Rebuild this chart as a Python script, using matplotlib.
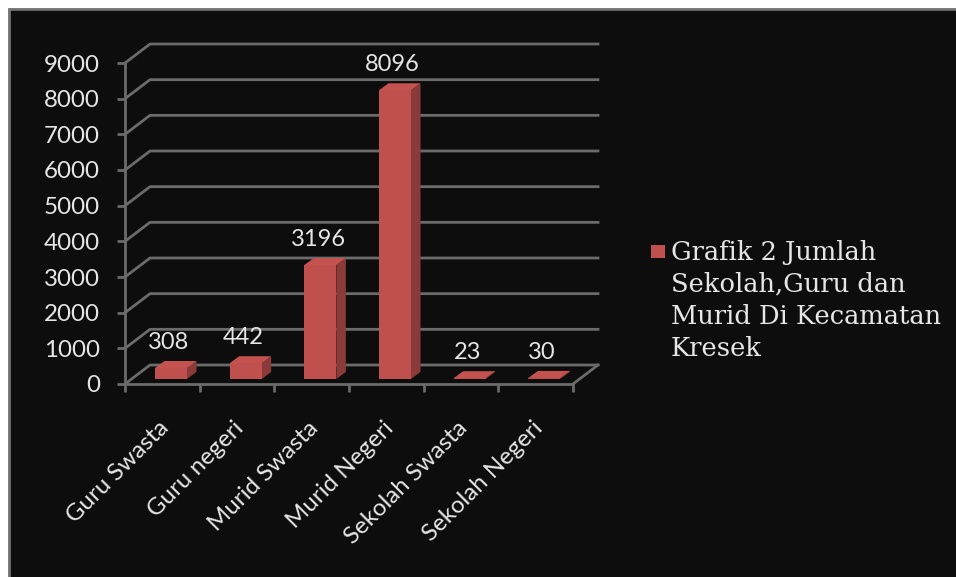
import numpy as np
import matplotlib
matplotlib.use('Agg')
import matplotlib.pyplot as plt
from matplotlib.patches import Polygon, Rectangle
from matplotlib.transforms import ScaledTranslation

categories = ['Guru Swasta', 'Guru negeri', 'Murid Swasta', 'Murid Negeri', 'Sekolah Swasta', 'Sekolah Negeri']
values = [308, 442, 3196, 8096, 23, 30]
y_ticks = [0, 1000, 2000, 3000, 4000, 5000, 6000, 7000, 8000, 9000]
legend_text = 'Grafik 2 Jumlah\nSekolah,Guru dan\nMurid Di Kecamatan\nKresek'

BG = '#0d0d0d'
GRID = '#6b6b6b'
TEXT = '#e6e6e6'
FRONT = '#c0504d'
TOP = '#c4524f'
SIDE = '#8a3b39'

W, H = 956, 577
fig = plt.figure(figsize=(W / 100, H / 100), dpi=100, facecolor='white')

# dark panel with a thin grey frame on the left and top
fig.add_artist(Rectangle((9 / W, -0.02), 1, 1.02 - 9 / H, transform=fig.transFigure,
                         facecolor=BG, edgecolor='#707070', linewidth=2, zorder=-1))

# axes box is the front of the floor and the left wall of the 3d look
left, bottom, width, height = 125, 384, 448, 321
ax = fig.add_axes([left / W, (H - bottom) / H, width / W, height / H])
ax.set_xlim(0, 6)
ax.set_ylim(0, 9000)
ax.patch.set_visible(False)

# one pixel in data units, used for the depth offsets
px_x = 6 / width
px_y = 9000 / height
depth_x = 25 * px_x
depth_y = 19 * px_y

for v in y_ticks:
    ax.plot([0, depth_x, 6 + depth_x], [v, v + depth_y, v + depth_y],
            color=GRID, lw=2, clip_on=False, zorder=1)
ax.plot([6, 6 + depth_x], [0, depth_y], color=GRID, lw=2, clip_on=False, zorder=1)

for spine in ['top', 'right']:
    ax.spines[spine].set_visible(False)
for spine in ['left', 'bottom']:
    ax.spines[spine].set_color(GRID)
    ax.spines[spine].set_linewidth(2)

ax.set_yticks(y_ticks)
ax.set_yticklabels([str(v) for v in y_ticks], fontsize=17.4, color=TEXT, family='Lato')
ax.tick_params(axis='y', color=GRID, width=2, length=6, pad=12)

ax.set_xticks(np.arange(len(categories)) + 0.5)
ax.set_xticklabels(categories, rotation=45, ha='right', rotation_mode='anchor',
                   fontsize=17.3, color=TEXT, family='Lato')
ax.set_xticks(np.arange(len(categories) + 1), minor=True)
ax.tick_params(axis='x', which='major', length=0, pad=24)
ax.tick_params(axis='x', which='minor', color=GRID, width=2, length=6)

# nudge the slanted labels left of the category centre
nudge = ScaledTranslation(-4 / 100, 0, fig.dpi_scale_trans)
for label in ax.get_xticklabels():
    label.set_transform(label.get_transform() + nudge)

# bars: front face, top and side, set slightly into the floor
bar_w = 32 * px_x
bar_off = 30 * px_x
base = 5 * px_y
bar_dx = 9.5 * px_x
bar_dy = 7 * px_y
for i, v in enumerate(values):
    x0 = i + bar_off
    x1 = x0 + bar_w
    y0 = base
    y1 = base + v
    ax.add_patch(Polygon([(x1, y0), (x1 + bar_dx, y0 + bar_dy), (x1 + bar_dx, y1 + bar_dy), (x1, y1)],
                         facecolor=SIDE, edgecolor='none', clip_on=False, zorder=3))
    ax.add_patch(Rectangle((x0, y0), bar_w, v, facecolor=FRONT, edgecolor='none',
                           clip_on=False, zorder=3))
    ax.add_patch(Polygon([(x0, y1), (x1, y1), (x1 + bar_dx, y1 + bar_dy), (x0 + bar_dx, y1 + bar_dy)],
                         facecolor=TOP, edgecolor='none', clip_on=False, zorder=3))
    ax.annotate(str(v), (x0 + bar_w / 2 + bar_dx / 2, y1 + bar_dy), xytext=(-7, 8),
                textcoords='offset pixels', ha='center', va='bottom',
                fontsize=17, color=TEXT, family='Lato', zorder=4)

# legend drawn by hand, single series with wrapped serif text
fig.add_artist(Rectangle((651 / W, 1 - 258 / H), 14 / W, 13 / H, transform=fig.transFigure,
                         facecolor=FRONT, edgecolor='none'))
fig.text(671 / W, 1 - 239.5 / H, legend_text, color=TEXT, family='DejaVu Serif', fontsize=18.5,
         va='top', ha='left', linespacing=1.35)

fig.savefig('out.png', dpi=100, facecolor='white')
